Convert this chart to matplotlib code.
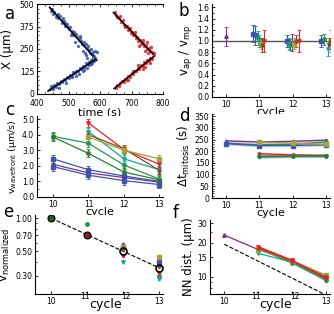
import numpy as np
import matplotlib
matplotlib.use('Agg')
import matplotlib.pyplot as plt
import matplotlib.transforms as mtrans
from matplotlib.ticker import FixedLocator, NullFormatter, AutoMinorLocator, FormatStrFormatter

plt.rcParams['font.family'] = 'DejaVu Sans'
plt.rcParams['mathtext.default'] = 'regular'

# colours for the embryo series
C = {'blue': '#3a55b0', 'purple': '#7d2f94', 'green': '#1f9a4a', 'dgreen': '#2a7d35',
     'teal': '#1aa3a3', 'olive': '#a3a23e', 'brown': '#8a4a1c', 'red': '#e8202a'}

# ---- panel a: wavefront position vs time
blue_up_t = [445, 450, 455, 460, 462, 468, 472, 478, 480, 485, 490, 495, 498, 502, 505, 510, 512, 518,
             520, 525, 528, 532, 535, 540, 542, 548, 550, 555, 558, 562, 565, 568, 572, 575, 578, 582,
             585, 560, 570, 555, 448, 466, 488, 515, 538, 545, 530, 520, 575, 590, 565, 552, 508, 483]
blue_up_x = [460, 445, 455, 430, 440, 420, 435, 410, 395, 405, 380, 390, 370, 360, 375, 350, 340, 345,
             325, 335, 315, 300, 320, 295, 280, 290, 270, 275, 255, 265, 245, 230, 250, 220, 235, 210,
             240, 200, 190, 215, 470, 445, 395, 330, 310, 240, 265, 290, 170, 235, 180, 225, 330, 420]
blue_lo_t = [440, 445, 450, 455, 460, 465, 470, 475, 480, 485, 490, 495, 500, 505, 510, 515, 520, 525,
             530, 535, 540, 545, 550, 555, 560, 565, 570, 575, 580, 585, 578, 565, 550, 532, 512,
             470, 492, 525, 545, 560, 572]
blue_lo_x = [30, 45, 25, 50, 40, 60, 55, 70, 65, 85, 80, 95, 90, 105, 100, 120, 115, 130,
             125, 145, 140, 155, 150, 170, 165, 180, 175, 190, 185, 200, 205, 160, 135, 110, 95,
             35, 60, 100, 125, 145, 165]
red_up_t = [648, 652, 655, 660, 662, 668, 672, 676, 680, 685, 690, 694, 698, 702, 706, 710, 714, 718,
            722, 726, 730, 735, 740, 745, 750, 755, 760, 765, 770, 762, 748, 735, 712, 752, 742, 725]
red_up_x = [455, 440, 430, 420, 435, 400, 410, 385, 375, 380, 355, 365, 340, 345, 325, 330, 310, 315,
            295, 300, 280, 285, 265, 270, 250, 255, 240, 235, 225, 260, 290, 300, 345, 230, 240, 265]
red_lo_t = [650, 655, 660, 665, 670, 675, 680, 685, 690, 695, 700, 705, 710, 715, 720, 725, 730, 735,
            740, 745, 750, 755, 760, 765, 770, 742, 758, 722, 705, 690, 735]
red_lo_x = [35, 50, 45, 60, 70, 65, 85, 80, 100, 95, 115, 110, 130, 125, 145, 140, 160, 155,
            175, 170, 190, 185, 200, 195, 215, 150, 170, 160, 125, 80, 140]

# ---- panel b: v_ap / v_mp
b_x = [10.0, 10.82, 10.88, 10.95, 11.0, 11.05, 11.08, 11.15,
       11.82, 11.88, 11.93, 11.98, 12.05, 12.1, 12.18,
       12.85, 12.95, 13.05, 13.1, 13.14]
b_y = [1.08, 1.13, 1.1, 1.05, 1.0, 0.95, 0.93, 1.0,
       1.0, 0.95, 0.93, 0.97, 0.95, 1.0, 1.0,
       1.0, 1.03, 0.85, 0.95, 1.0]
b_err = [0.17, 0.15, 0.17, 0.12, 0.1, 0.1, 0.12, 0.2,
         0.1, 0.1, 0.1, 0.15, 0.1, 0.1, 0.2,
         0.1, 0.1, 0.12, 0.1, 0.2]
b_col = ['purple', 'blue', 'blue', 'green', 'teal', 'olive', 'brown', 'red',
         'blue', 'teal', 'green', 'purple', 'olive', 'brown', 'red',
         'blue', 'green', 'teal', 'brown', 'red']

# ---- panel c: wavefront speed per cycle
c_series = {
    'blue': ([10, 11, 12, 13], [2.45, 1.75, 1.35, 1.0]),
    'purple': ([10, 11, 12, 13], [2.1, 1.55, 1.25, 0.95]),
    'blue2': ([10, 11, 12, 13], [1.95, 1.4, 1.05, 0.8]),
    'green': ([10, 11, 12, 13], [3.9, 3.45, 2.05, 1.15]),
    'dgreen': ([10, 11, 12, 13], [3.85, 2.8, 1.6, 1.1]),
    'red': ([11, 12, 13], [4.75, 3.05, 2.1]),
    'teal': ([11, 12, 13], [4.2, 2.45, 1.75]),
    'brown': ([11, 12, 13], [4.0, 3.1, 1.7]),
    'olive': ([11, 12, 13], [3.85, 3.0, 2.45]),
}
c_err = 0.25

# ---- panel d: mitosis duration
d_series = {
    'purple': ([10, 11, 12, 13], [245, 240, 243, 248]),
    'green': ([10, 11, 12, 13], [235, 228, 230, 240]),
    'blue': ([10, 11, 12, 13], [233, 225, 225, 228]),
    'olive': ([11, 12, 13], [240, 235, 230]),
    'red': ([11, 12, 13], [190, 185, 182]),
    'brown': ([11, 12, 13], [181, 181, 181]),
    'teal': ([11, 12, 13], [175, 178, 180]),
    'dgreen': ([11, 12, 13], [178, 180, 182]),
}

# ---- panel e: normalized speed
e_mean_x = [10, 11, 12, 13]
e_mean_y = [1.0, 0.707, 0.5, 0.354]
e_pts = {
    'green': ([11, 13], [0.88, 0.30]),
    'purple': ([12, 13], [0.58, 0.42]),
    'blue': ([12, 13], [0.55, 0.40]),
    'olive': ([12, 13], [0.55, 0.44]),
    'brown': ([12, 13], [0.52, 0.37]),
    'red': ([12, 13], [0.45, 0.32]),
    'teal': ([12, 13], [0.40, 0.28]),
}

# ---- panel f: nearest neighbour distance
f_series = {
    'purple': ([10, 11, 12, 13], [23.5, 17.5, 13.8, 9.9]),
    'teal': ([11, 12, 13], [16.2, 13.5, 9.5]),
    'green': ([11, 12, 13], [17.8, 13.3, 9.3]),
    'olive': ([11, 12, 13], [17.5, 13.9, 10.4]),
    'brown': ([11, 12, 13], [18.0, 13.9, 10.0]),
    'red': ([11, 12, 13], [18.5, 14.0, 9.7]),
}
f_ref0 = 19.5

W, H = 334, 314
fig = plt.figure(figsize=(W / 100, H / 100), dpi=100)


def box(l, t, r, b):
    return [l / W, 1 - b / H, (r - l) / W, (b - t) / H]


def style(ax, top=False):
    for s in ['right'] + ([] if top else ['top']):
        ax.spines[s].set_visible(False)
    for s in ax.spines.values():
        s.set_linewidth(0.8)
    ax.tick_params(direction='in', labelsize=5.5, length=2, width=0.6, pad=2,
                   top=top, right=False)
    ax.tick_params(which='minor', direction='in', length=1.2, width=0.5, top=top)


def raise_mid_labels(ax):
    # the middle cycle labels sit higher and apart, the axis name goes between them
    ticks = ax.xaxis.get_major_ticks()
    for t, dx in [(ticks[1], -2), (ticks[2], 3)]:
        off = mtrans.ScaledTranslation(dx / 100, 5 / 100, fig.dpi_scale_trans)
        t.label1.set_transform(t.label1.get_transform() + off)


mk = {'blue': 's', 'blue2': 's', 'purple': '^', 'green': 'o', 'dgreen': 'o',
      'teal': 'v', 'olive': 's', 'brown': 'd', 'red': 'v'}


def col(k):
    return C[k.rstrip('2')]


# a
ax = fig.add_axes(box(37, 4, 163, 94))
for t, x, c in [(blue_up_t, blue_up_x, C['blue']), (blue_lo_t, blue_lo_x, C['blue']),
                (red_up_t, red_up_x, C['red']), (red_lo_t, red_lo_x, C['red'])]:
    ax.plot(t, x, '.', ms=2.8, color=c, alpha=0.8)
    p = np.polyfit(t, x, 1)
    tt = np.array([min(t) - 5, max(t)])
    ax.plot(tt, np.polyval(p, tt), 'k-', lw=1.2)
ax.set_xlim(400, 800)
ax.set_ylim(0, 500)
ax.set_xticks([400, 500, 600, 700, 800])
ax.set_yticks([0, 125, 250, 375, 500])
ax.xaxis.set_minor_locator(AutoMinorLocator(4))
ax.yaxis.set_minor_locator(AutoMinorLocator(5))
style(ax, top=True)
ax.tick_params(axis='x', pad=3.5)
ax.set_xlabel('time (s)', fontsize=8, labelpad=0)
ax.set_ylabel('X (μm)', fontsize=8.5, labelpad=4)

# b
ax = fig.add_axes(box(212, 4, 330, 97))
ax.axhline(1.0, color='#555555', lw=1)
for x, y, e, k in zip(b_x, b_y, b_err, b_col):
    ax.errorbar(x, y, yerr=e, fmt=mk[k], ms=2.5, color=C[k], ecolor=C[k],
                elinewidth=0.8, capsize=1.2, capthick=0.6)
ax.set_xlim(9.58, 13.12)
ax.set_ylim(0, 1.66)
ax.set_xticks([10, 11, 12, 13])
ax.set_yticks(np.round(np.arange(0, 1.61, 0.2), 1))
ax.yaxis.set_major_formatter(FormatStrFormatter('%.1f'))
ax.yaxis.set_minor_locator(AutoMinorLocator(2))
style(ax)
ax.set_xlabel('cycle', fontsize=8, labelpad=-1)
ax.set_ylabel(r'$v_{ap}$ / $v_{mp}$', fontsize=8.5, labelpad=2)

# c
ax = fig.add_axes(box(37, 116, 163, 197))
for k, (xs, ys) in c_series.items():
    ax.errorbar(xs, ys, yerr=c_err, fmt='-' + mk[k], ms=2.5, lw=0.9, color=col(k),
                elinewidth=0.7, capsize=1.2, capthick=0.6)
ax.set_xlim(9.55, 13.1)
ax.set_ylim(0, 5.2)
ax.set_xticks([10, 11, 12, 13])
ax.set_yticks([0, 1, 2, 3, 4, 5])
ax.yaxis.set_major_formatter(FormatStrFormatter('%.1f'))
ax.yaxis.set_minor_locator(AutoMinorLocator(2))
style(ax)
ax.set_xlabel('cycle', fontsize=8, labelpad=-1)
ax.set_ylabel(r'$v_{wavefront}$ (μm/s)', fontsize=6.8, labelpad=2)

# d
ax = fig.add_axes(box(212, 114, 330, 198))
for k, (xs, ys) in d_series.items():
    ys = np.array(ys, float)
    ax.fill_between(xs, ys - 6, ys + 6, color=col(k), alpha=0.25, lw=0)
    ax.plot(xs, ys, '-' + mk[k], ms=2.2, lw=0.9, color=col(k))
ax.set_xlim(9.58, 13.12)
ax.set_ylim(0, 360)
ax.set_xticks([10, 11, 12, 13])
ax.set_yticks(range(0, 351, 50))
ax.yaxis.set_minor_locator(AutoMinorLocator(5))
style(ax)
ax.set_xlabel('cycle', fontsize=8, labelpad=-1)
ax.set_ylabel(r'$\Delta t_{mitosis}$ (s)', fontsize=8.5, labelpad=2)

# e
ax = fig.add_axes(box(35, 215, 163, 294))
ax.set_yscale('log')
xr = np.array([10, 13])
ax.plot(xr, 2.0 ** (-(xr - 10) / 2), 'k--', lw=0.8, zorder=1)
for k, (xs, ys) in e_pts.items():
    ax.plot(xs, ys, mk[k], ms=2.5, color=C[k], zorder=2)
ax.plot(e_mean_x[0], e_mean_y[0], 'o', ms=5, mfc='#1d5a32', mec='k', mew=0.8, zorder=3)
ax.plot(e_mean_x[1], e_mean_y[1], 'o', ms=5, mfc='#8a1c22', mec='k', mew=0.8, zorder=3)
ax.plot(e_mean_x[2:], e_mean_y[2:], 'o', ms=5, mfc='none', mec='k', mew=1.2, zorder=3)
ax.set_xlim(9.55, 13.1)
ax.set_ylim(0.205, 1.07)
ax.set_xticks([10, 11, 12, 13])
ax.yaxis.set_major_locator(FixedLocator([0.3, 0.5, 0.7, 1.0]))
ax.yaxis.set_major_formatter(FormatStrFormatter('%.2f'))
ax.yaxis.set_minor_formatter(NullFormatter())
ax.yaxis.set_minor_locator(FixedLocator([0.4, 0.6, 0.8, 0.9]))
style(ax)
raise_mid_labels(ax)
ax.set_xlabel('cycle', fontsize=9)
ax.xaxis.set_label_coords((11.5 - 9.55) / 3.55, -4 / 79)
ax.set_ylabel(r'$v_{normalized}$', fontsize=8.5, labelpad=2)

# f
ax = fig.add_axes(box(210, 220, 330, 294))
ax.set_yscale('log')
ax.plot(xr, f_ref0 * 2.0 ** (-(xr - 10) / 2), 'k--', lw=0.8)
for k, (xs, ys) in f_series.items():
    ax.errorbar(xs, ys, yerr=0.3, fmt='-' + mk[k], ms=2.5, lw=1.2 if k == 'red' else 0.9,
                color=C[k], elinewidth=0.6, capsize=1)
ax.set_xlim(9.58, 13.12)
ax.set_ylim(7.05, 32)
ax.set_xticks([10, 11, 12, 13])
ax.yaxis.set_major_locator(FixedLocator([10, 15, 20, 30]))
ax.yaxis.set_major_formatter(FormatStrFormatter('%d'))
ax.yaxis.set_minor_formatter(NullFormatter())
ax.yaxis.set_minor_locator(FixedLocator([8, 9, 25]))
style(ax)
raise_mid_labels(ax)
ax.set_xlabel('cycle', fontsize=9)
ax.xaxis.set_label_coords((11.5 - 9.58) / 3.54, -4 / 74)
ax.set_ylabel('NN dist. (μm)', fontsize=8.5, labelpad=2)

for s, x, y in [('a', 10, 14), ('b', 184, 11), ('c', 10, 110), ('d', 184, 116),
                ('e', 8, 212), ('f', 176, 213)]:
    fig.text(x / W, 1 - y / H, s, fontsize=12, ha='center', va='center')

fig.savefig('out.png', dpi=100)
